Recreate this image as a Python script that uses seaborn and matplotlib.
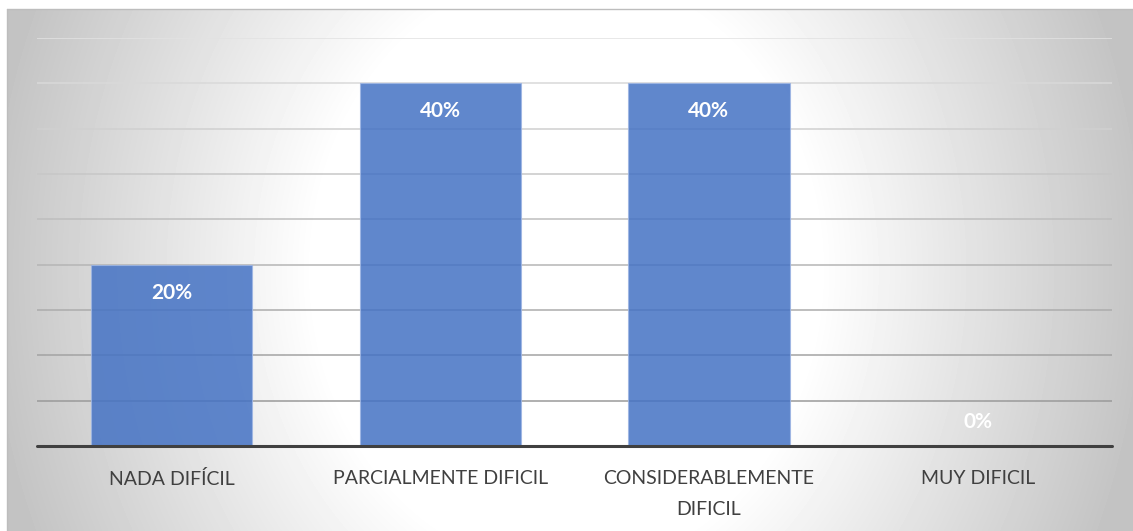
import numpy as np
import pandas as pd
import seaborn as sns
import matplotlib.pyplot as plt
import matplotlib.colors as mcolors

# ------------------- Data -------------------
categories = ["NADA DIFÍCIL", "PARCIALMENTE DIFICIL", "CONSIDERABLEMENTE DIFICIL", "MUY DIFICIL"]
tick_labels = ["NADA DIFÍCIL", "PARCIALMENTE DIFICIL", "CONSIDERABLEMENTE\nDIFICIL", "MUY DIFICIL"]
values = [20, 40, 40, 0]
grid_levels = [5, 10, 15, 20, 25, 30, 35, 40, 45]

df = pd.DataFrame({"categoria": categories, "porcentaje": values})

sns.set_theme(style="white")
plt.rcParams['font.family'] = ['Lato', 'DejaVu Sans']

W, H = 1133, 531
fig = plt.figure(figsize=(W / 100, H / 100), dpi=100)
fig.patch.set_facecolor("white")

# ------------------- Background gradient -------------------
x0, y0 = 7, 9
bw, bh = W - x0, H - y0
xx, yy = np.meshgrid(np.arange(bw) + x0, np.arange(bh) + y0)
cx, cy = 566, 270
r = np.sqrt(((xx - cx) / 600) ** 2 + ((yy - cy) / 700) ** 2)
t = np.clip((r - 0.42) / 0.55, 0, 1)
grey = 1 - t * (1 - 0xc3 / 255)
bg_ax = fig.add_axes([x0 / W, 0, bw / W, bh / H], zorder=-1)
bg_ax.imshow(grey, cmap="gray", vmin=0, vmax=1, aspect="auto", interpolation="bilinear")
bg_ax.set_axis_off()
# frame lines (top and left)
fig.add_artist(plt.Line2D([x0 / W, 1], [1 - y0 / H, 1 - y0 / H], color="#bdbdbd", lw=1))
fig.add_artist(plt.Line2D([x0 / W, x0 / W], [0, 1 - y0 / H], color="#bdbdbd", lw=1))

# ------------------- Bars -------------------
ax = fig.add_axes([37 / W, (H - 446) / H, 1075 / W, 408 / H])
ax.patch.set_alpha(0)

light = np.array(mcolors.to_rgb("#e2e2e2"))
dark = np.array(mcolors.to_rgb("#9a9a9a"))
for lvl in grid_levels:
    f = (lvl - 5) / 40
    ax.axhline(lvl, color=dark * (1 - f) + light * f, lw=1.1, zorder=0)

sns.barplot(data=df, x="categoria", y="porcentaje", color="#4472C4", saturation=1,
            alpha=0.85, width=0.6, edgecolor="#9db5e3", linewidth=0.8, ax=ax, zorder=2)

ax.axhline(0, color="#404040", lw=2.2, zorder=3, clip_on=False)

for i, v in enumerate(values):
    off = -28 if v > 0 else 24
    ax.annotate(f"{v}%", (i, v), xytext=(0, off * 0.72), textcoords="offset points",
                ha="center", va="center", color="white", fontsize=15, fontweight="bold")

ax.set_xlim(-0.5, 3.5)
ax.set_ylim(0, 45)
ax.set_xlabel("")
ax.set_ylabel("")
ax.set_yticks([])
ax.set_xticks(range(len(tick_labels)))
ax.set_xticklabels(tick_labels, fontsize=14, color="#404040", linespacing=2.05)
ax.tick_params(axis="x", length=0, pad=17)
for s in ax.spines.values():
    s.set_visible(False)

fig.savefig("out.png", dpi=100)
